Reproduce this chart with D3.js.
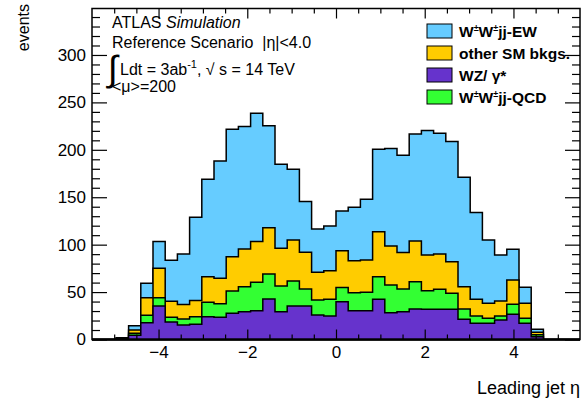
<!DOCTYPE html>
<html>
<head>
<meta charset="utf-8">
<script src="https://cdn.jsdelivr.net/npm/d3@7"></script>
<style>
  html, body { margin: 0; padding: 0; background: #fff; }
  svg { display: block; font-family: "Liberation Sans", Arial, Helvetica, sans-serif; }
</style>
</head>
<body>
<svg id="chart" width="588" height="401"></svg>
<script>
// Histogram binning in leading-jet pseudorapidity
const etaLow = -5.5;
const etaHigh = 5.5;
const nBins = 40;

// Events per bin for each process (stacked bottom to top)
const wzGamma = [0,0,1.5,4.5,17.7,35.3,18.5,15.3,16.0,24.1,
                 23.4,27.6,29.3,30.4,42.7,29.3,35.3,35.3,25.8,24.8,
                 39.9,30.4,30.4,42.4,28.3,29.3,32.2,31.9,31.9,31.9,
                 21.3,17.1,17.1,20.6,26.6,17.1,3.0,0,0,0];
const wwQCD   = [0,0,0,2.0,7.8,8.8,4.9,6.3,8.1,15.1,
                 14.4,23.6,26.4,29.9,26.4,27.1,26.4,18.0,15.9,17.6,
                 14.8,19.0,19.4,23.8,29.2,24.0,28.8,19.6,21.1,16.8,
                 10.9,7.7,5.3,4.2,10.5,5.3,2.0,0,0,0];
const otherSM = [0,0,0,3.5,18.6,31.0,16.8,15.3,16.9,27.0,
                 26.8,36.1,39.8,42.9,48.8,39.8,43.3,38.7,29.2,30.2,
                 39.0,33.7,34.1,47.5,41.1,38.3,42.9,37.6,37.2,33.4,
                 23.5,17.6,15.8,15.8,25.7,15.8,2.6,0,0,0];
const wwEW    = [0,0,0,4.6,15.2,28.1,43.3,53.3,87.9,102.8,
                 123.7,134.4,129.0,135.4,107.6,88.6,74.5,53.4,45.7,47.1,
                 41.8,56.3,64.0,86.9,102.7,102.7,112.9,131.2,127.3,126.6,
                 115.4,91.4,66.8,48.5,32.3,16.9,3.1,0,0,0];

// Axis ticks
const xMajorTicks = [-4, -2, 0, 2, 4];
const yMajorTicks = [0, 50, 100, 150, 200, 250, 300];
const yMax = 349;

const svg = d3.select("#chart");
const plotLeft = 92, plotRight = 580, plotTop = 8.5, plotBottom = 339.5;

const x = d3.scaleLinear().domain([etaLow, etaHigh]).range([plotLeft, plotRight]);
const y = d3.scaleLinear().domain([0, yMax]).range([plotBottom, plotTop]);

const binW = (etaHigh - etaLow) / nBins;
const edges = d3.range(nBins + 1).map(i => etaLow + i * binW);

// Stack layers: cumulative sums in order WZ, QCD, other, EW
const layers = [
  { name: "wz",    vals: wzGamma, color: "#6633cc" },
  { name: "qcd",   vals: wwQCD,   color: "#33ff33" },
  { name: "other", vals: otherSM, color: "#ffcc00" },
  { name: "ew",    vals: wwEW,    color: "#66ccff" }
];
let running = new Array(nBins).fill(0);
layers.forEach(l => {
  running = running.map((v, i) => v + l.vals[i]);
  l.cum = running.slice();
});

function stepPoints(cum) {
  const pts = [[edges[0], 0]];
  cum.forEach((v, i) => { pts.push([edges[i], v]); pts.push([edges[i + 1], v]); });
  pts.push([edges[nBins], 0]);
  return pts;
}
const line = d3.line().x(d => x(d[0])).y(d => y(d[1]));

const plot = svg.append("g");
// Draw the tallest cumulative histogram first, each lower one on top
layers.slice().reverse().forEach(l => {
  plot.append("path")
    .attr("d", line(stepPoints(l.cum)) + "Z")
    .attr("fill", l.color)
    .attr("stroke", "#000")
    .attr("stroke-width", 1.5)
    .attr("stroke-linejoin", "miter");
});

// Axes with ticks on all four sides, pointing inward
const xMinor = d3.range(-5, 5.01, 0.5).filter(v => !xMajorTicks.includes(v));
const yMinor = d3.range(0, yMax, 10).filter(v => !yMajorTicks.includes(v));

function styleAxis(g) {
  g.select(".domain").remove();
  g.selectAll("line").attr("stroke", "#000").attr("stroke-width", 1.2);
  g.selectAll("text").attr("fill", "#000").style("font-size", "17px")
    .style("font-family", '"Liberation Sans", Arial, Helvetica, sans-serif');
}

// bottom
svg.append("g").attr("transform", `translate(0,${plotBottom})`)
  .call(d3.axisBottom(x).tickValues(xMajorTicks).tickSize(-10).tickPadding(6))
  .call(styleAxis);
svg.append("g").attr("transform", `translate(0,${plotBottom})`)
  .call(d3.axisBottom(x).tickValues(xMinor).tickSize(-5).tickFormat(""))
  .call(styleAxis);
// top
svg.append("g").attr("transform", `translate(0,${plotTop})`)
  .call(d3.axisTop(x).tickValues(xMajorTicks).tickSize(-10).tickFormat(""))
  .call(styleAxis);
svg.append("g").attr("transform", `translate(0,${plotTop})`)
  .call(d3.axisTop(x).tickValues(xMinor).tickSize(-5).tickFormat(""))
  .call(styleAxis);
// left
svg.append("g").attr("transform", `translate(${plotLeft},0)`)
  .call(d3.axisLeft(y).tickValues(yMajorTicks).tickSize(-15).tickPadding(6))
  .call(styleAxis);
svg.append("g").attr("transform", `translate(${plotLeft},0)`)
  .call(d3.axisLeft(y).tickValues(yMinor).tickSize(-8).tickFormat(""))
  .call(styleAxis);
// right
svg.append("g").attr("transform", `translate(${plotRight},0)`)
  .call(d3.axisRight(y).tickValues(yMajorTicks).tickSize(-15).tickFormat(""))
  .call(styleAxis);
svg.append("g").attr("transform", `translate(${plotRight},0)`)
  .call(d3.axisRight(y).tickValues(yMinor).tickSize(-8).tickFormat(""))
  .call(styleAxis);

// frame
svg.append("rect")
  .attr("x", plotLeft).attr("y", plotTop)
  .attr("width", plotRight - plotLeft).attr("height", plotBottom - plotTop)
  .attr("fill", "none").attr("stroke", "#000").attr("stroke-width", 1.5);
svg.append("line")
  .attr("x1", plotLeft).attr("x2", plotRight).attr("y1", plotBottom).attr("y2", plotBottom)
  .attr("stroke", "#000").attr("stroke-width", 2);

// axis titles
svg.append("text")
  .attr("transform", "translate(29,4) rotate(-90)")
  .attr("text-anchor", "end")
  .style("font-size", "16px")
  .text("events");
svg.append("text")
  .attr("x", 580).attr("y", 394)
  .attr("text-anchor", "end")
  .style("font-size", "18px")
  .text("Leading jet η");

// Info text block
const info = svg.append("g").style("font-size", "16px");
const t1 = info.append("text").attr("x", 112).attr("y", 28);
t1.append("tspan").text("ATLAS ");
t1.append("tspan").style("font-style", "italic").text("Simulation");
info.append("text").attr("x", 112).attr("y", 48).text("Reference Scenario\u00a0\u00a0|η|<4.0");
info.append("text").attr("x", 108).attr("y", 81).style("font-size", "36px")
  .style("font-weight", "300").text("∫");
const t3 = info.append("text").attr("x", 120).attr("y", 75);
t3.append("tspan").text("Ldt = 3ab");
t3.append("tspan").attr("dy", -7).style("font-size", "11px").text("-1");
t3.append("tspan").attr("dy", 7).text(", √ s = 14 TeV");
info.append("text").attr("x", 112).attr("y", 92).text("<μ>=200");

// Legend
const legendItems = [
  { color: "#66ccff", parts: [["W"], ["±", true], ["W"], ["±", true], ["jj-EW"]] },
  { color: "#ffcc00", parts: [["other SM bkgs."]] },
  { color: "#6633cc", parts: [["WZ/ γ*"]] },
  { color: "#33ff33", parts: [["W"], ["±", true], ["W"], ["±", true], ["jj-QCD"]] }
];
const legend = svg.append("g");
legendItems.forEach((it, i) => {
  const cy = 31 + i * 22;
  legend.append("rect")
    .attr("x", 427).attr("y", cy - 7).attr("width", 25).attr("height", 14)
    .attr("fill", it.color).attr("stroke", "#000").attr("stroke-width", 1);
  const t = legend.append("text").attr("x", 459).attr("y", cy + 5.5)
    .style("font-size", "15.5px").style("font-weight", "bold");
  let raised = false;
  it.parts.forEach(p => {
    const ts = t.append("tspan").text(p[0]);
    if (p[1]) { ts.attr("dy", -6).style("font-size", "9px"); raised = true; }
    else if (raised) { ts.attr("dy", 6); raised = false; }
  });
});
</script>
</body>
</html>
